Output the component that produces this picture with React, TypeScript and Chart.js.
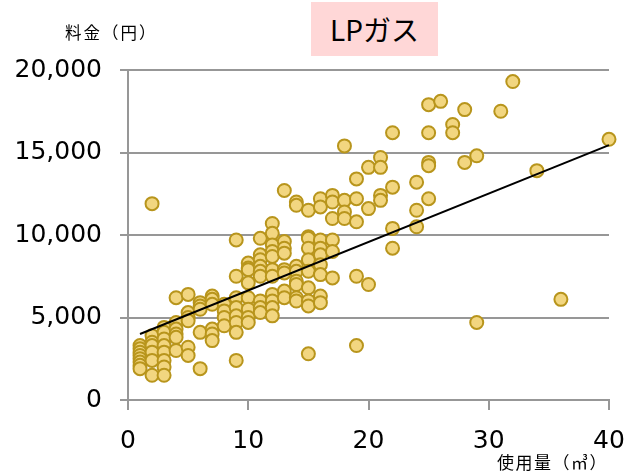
import React, { useEffect, useRef } from "react";
import { Chart, registerables } from "chart.js";

Chart.register(...registerables);

// 使用量 (m³) levels and the charges (円) observed at each level
const usageLevels = [1, 2, 3, 4, 5, 6, 7, 8, 9, 10, 11, 12, 13, 14, 15, 16, 17, 18, 19, 20, 21, 22, 24, 25, 26, 27, 28, 29, 31, 32, 34, 36, 40];
const chargesByUsage: number[][] = [
  [3300, 3100, 2900, 2700, 2500, 2300, 2100, 1900],
  [11900, 3900, 3500, 3300, 2900, 2400, 1500],
  [4400, 4100, 3700, 3300, 2900, 2400, 2000, 1500],
  [6200, 4700, 4300, 4000, 3800, 3000],
  [6400, 5300, 5000, 4800, 3200, 2700],
  [5900, 5700, 5500, 4100, 1900],
  [6300, 6100, 5800, 4300, 4000, 3600],
  [5800, 5400, 5000, 4500],
  [9700, 7500, 6200, 5600, 5100, 4700, 4100, 2400],
  [8300, 8000, 7900, 7100, 6200, 5500, 5000, 4700],
  [9800, 8800, 8500, 8100, 7800, 7500, 6000, 5600, 5300],
  [10700, 10100, 9400, 9000, 8700, 7900, 7500, 6400, 6000, 5600, 5100],
  [12700, 9600, 9200, 8900, 7900, 7700, 6600, 6200],
  [12000, 11800, 8100, 7800, 7200, 7000, 6200, 6000],
  [11500, 9900, 9800, 9200, 8500, 7800, 6800, 6000, 5700, 2800],
  [12200, 11700, 9700, 9200, 8800, 8200, 7600, 6300, 5900],
  [12400, 12000, 11000, 9700, 9000, 7400],
  [15400, 12100, 11400, 11000],
  [13400, 12200, 10800, 7500, 3300],
  [14100, 11600, 7000],
  [14700, 14100, 12400, 12100],
  [16200, 12900, 10400, 9200],
  [13200, 11500, 10500],
  [17900, 16200, 14400, 14200, 12200],
  [18100],
  [16700, 16200],
  [17600, 14400],
  [14800, 4700],
  [17500],
  [19300],
  [13900],
  [6100],
  [15800],
];

// trend line end points
const trendUsage = [1, 40];
const trendCharge = [4000, 15450];

const xTickValues = [0, 10, 20, 30, 40];
const yTickValues = [0, 5000, 10000, 15000, 20000];

const GRID = "#979797";

export default function App() {
  const canvasRef = useRef<HTMLCanvasElement>(null);

  useEffect(() => {
    document.body.style.margin = "0";
    const points = usageLevels.flatMap((u, i) => chargesByUsage[i].map((c) => ({ x: u, y: c })));
    const trend = trendUsage.map((u, i) => ({ x: u, y: trendCharge[i] }));

    const chart = new Chart(canvasRef.current!, {
      type: "scatter",
      data: {
        datasets: [
          {
            data: trend,
            showLine: true,
            borderColor: "#000000",
            borderWidth: 2,
            pointRadius: 0,
            pointHoverRadius: 0,
            order: 0,
            clip: false as any,
          },
          {
            data: points,
            backgroundColor: "#F2D680",
            borderColor: "#B8951C",
            borderWidth: 2,
            pointRadius: 6.5,
            order: 1,
            clip: false as any,
          },
        ],
      },
      options: {
        animation: false,
        responsive: false,
        devicePixelRatio: 1,
        layout: { padding: { left: 0, top: 70, right: 16, bottom: 0 } },
        plugins: { legend: { display: false }, tooltip: { enabled: false }, title: { display: false } },
        scales: {
          x: {
            type: "linear",
            min: 0,
            max: 40,
            afterBuildTicks: (s: any) => {
              s.ticks = xTickValues.map((v) => ({ value: v }));
            },
            afterFit: (s: any) => {
              s.height = 71;
              s.paddingLeft = 0;
              s.paddingRight = 0;
            },
            ticks: {
              color: "#000",
              font: { family: "DejaVu Sans", size: 25 },
              padding: 16,
              maxRotation: 0,
            },
            grid: { drawOnChartArea: false, drawTicks: true, tickLength: 10, color: GRID, lineWidth: 2 },
            border: { display: true, color: GRID, width: 2 },
          },
          y: {
            type: "linear",
            min: 0,
            max: 20000,
            afterBuildTicks: (s: any) => {
              s.ticks = yTickValues.map((v) => ({ value: v }));
            },
            afterFit: (s: any) => {
              s.width = 128;
              s.paddingTop = 0;
              s.paddingBottom = 0;
            },
            ticks: {
              color: "#000",
              font: { family: "DejaVu Sans", size: 25 },
              padding: 18,
              callback: (v: any) => Number(v).toLocaleString("en-US"),
            },
            grid: { color: GRID, lineWidth: 2, tickLength: 8 },
            border: { display: true, color: GRID, width: 2 },
          },
        },
      },
    });
    return () => chart.destroy();
  }, []);

  return (
    <div style={{ position: "relative", width: 625, height: 471, background: "#fff", overflow: "hidden" }}>
      <canvas ref={canvasRef} width={625} height={471} style={{ position: "absolute", left: 0, top: 0 }} />
      <div
        style={{
          position: "absolute",
          left: 311,
          top: 2,
          width: 127,
          height: 54,
          background: "#FFD7D7",
          display: "flex",
          alignItems: "center",
          justifyContent: "center",
          fontFamily: "'Noto Sans CJK JP', sans-serif",
          fontSize: 28,
          color: "#000",
        }}
      >
        LPガス
      </div>
      <div
        style={{
          position: "absolute",
          left: 65,
          top: 21,
          fontFamily: "'Noto Sans CJK JP', sans-serif",
          fontSize: 16.5,
          letterSpacing: 2,
          color: "#000",
          whiteSpace: "nowrap",
          lineHeight: "22px",
        }}
      >
        料金（円）
      </div>
      <div
        style={{
          position: "absolute",
          left: 497,
          top: 451,
          fontFamily: "'Noto Sans CJK JP', sans-serif",
          fontSize: 17,
          letterSpacing: 1.5,
          color: "#000",
          whiteSpace: "nowrap",
          lineHeight: "22px",
        }}
      >
        使用量（㎥）
      </div>
    </div>
  );
}
